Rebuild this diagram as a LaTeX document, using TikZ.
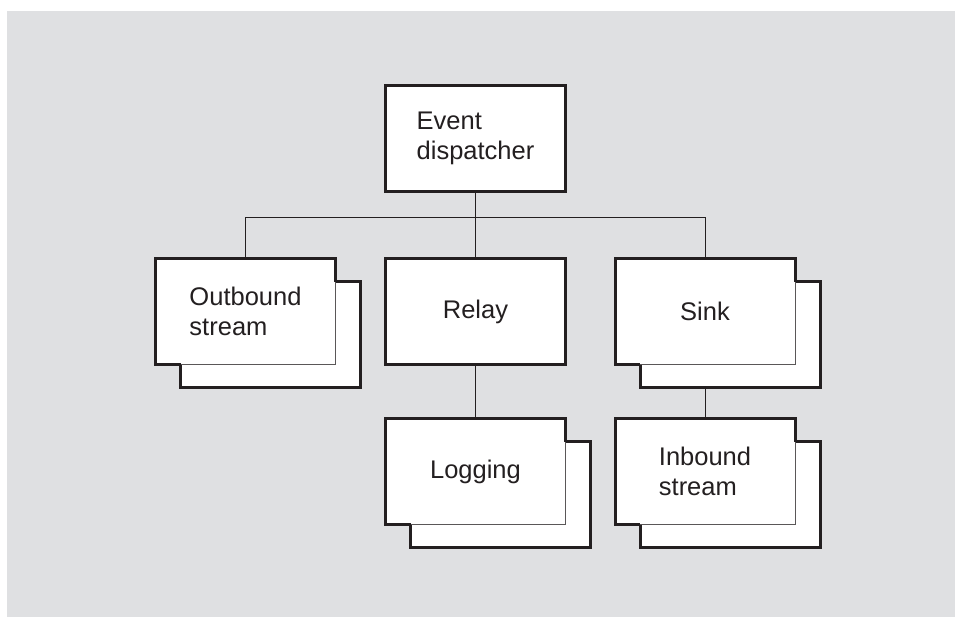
\documentclass[tikz,border=0pt]{standalone}
\usepackage{fontspec}
\setmainfont{Liberation Sans}
\definecolor{paper}{HTML}{DFE0E2}
\definecolor{ink}{HTML}{231F20}
\tikzset{
  box/.style={draw=ink, line width=1.5pt, fill=white, text=ink,
    minimum width=90pt, minimum height=53pt, inner sep=0pt, outer sep=0pt,
    align=left, font=\fontsize{12.75}{15}\selectfont},
  backbox/.style={box},
  frontbox/.style={box, draw=ink!75, line width=0.5pt},
  rim/.style={draw=ink, line width=1.5pt},
  wire/.style={draw=ink, line width=0.5pt}
}

\begin{document}
\begin{tikzpicture}[x=0.5pt,y=-0.5pt]
    \useasboundingbox (0,0) rectangle (955,617);
    \fill[paper] (7,11) rectangle (955,617);
    % single boxes
    \node[box] (disp) at (475.5,138.5) {Event\\dispatcher};
    \node[box] (relay) at (475.5,311.5) {Relay};
    % stacked boxes
    \foreach \n/\x/\y/\t in {out/245.5/311.5/{Outbound\\stream},
                             sink/705/311.5/{Sink},
                             log/475.5/471.5/{Logging},
                             inb/705/471.5/{Inbound\\stream}} {
      \node[backbox] (\n-b) at ({\x+25},{\y+23}) {};
      \node[frontbox] (\n) at (\x,\y) {\t};
      \draw[rim] (\n.south -| \n-b.west) -- (\n.south west) -- (\n.north west)
        -- (\n.north east) -- (\n.east |- \n-b.north);
    }
    % connectors
    \coordinate (bus) at (0,217);
    \draw[wire] (disp.south) -- (relay.north);
    \draw[wire] (out.north) -- (out.north |- bus) -- (sink.north |- bus) -- (sink.north);
    \draw[wire] (relay.south) -- (log.north);
    \draw[wire] (inb.north |- sink-b.south) -- (inb.north);
\end{tikzpicture}
\end{document}
